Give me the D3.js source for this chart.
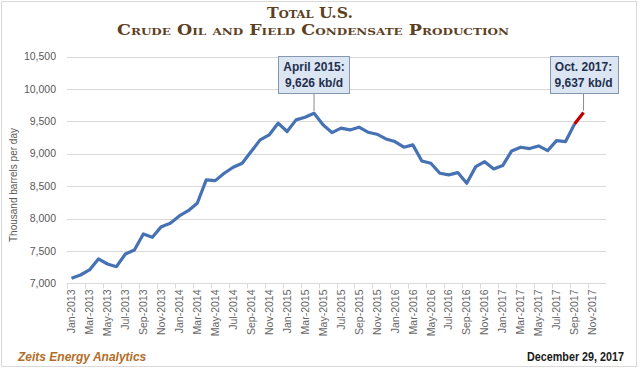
<!DOCTYPE html>
<html>
<head>
<meta charset="utf-8">
<script src="https://cdn.jsdelivr.net/npm/d3@7"></script>
<style>
  body { margin: 0; background: #fff; }
  svg { display: block; }
</style>
</head>
<body>
<div id="vis"></div>
<script>
var width = 640, height = 370;

// months on the category axis (Jan-2013 .. Dec-2017)
var months = [
  "Jan-2013","Feb-2013","Mar-2013","Apr-2013","May-2013","Jun-2013","Jul-2013","Aug-2013","Sep-2013","Oct-2013","Nov-2013","Dec-2013",
  "Jan-2014","Feb-2014","Mar-2014","Apr-2014","May-2014","Jun-2014","Jul-2014","Aug-2014","Sep-2014","Oct-2014","Nov-2014","Dec-2014",
  "Jan-2015","Feb-2015","Mar-2015","Apr-2015","May-2015","Jun-2015","Jul-2015","Aug-2015","Sep-2015","Oct-2015","Nov-2015","Dec-2015",
  "Jan-2016","Feb-2016","Mar-2016","Apr-2016","May-2016","Jun-2016","Jul-2016","Aug-2016","Sep-2016","Oct-2016","Nov-2016","Dec-2016",
  "Jan-2017","Feb-2017","Mar-2017","Apr-2017","May-2017","Jun-2017","Jul-2017","Aug-2017","Sep-2017","Oct-2017","Nov-2017","Dec-2017"
];

// production, thousand barrels per day (Jan-2013 .. Oct-2017)
var production = [
  7077, 7128, 7206, 7376, 7298, 7257, 7453, 7515, 7762, 7711, 7875, 7927,
  8040, 8122, 8236, 8597, 8586, 8700, 8793, 8855, 9035, 9215, 9292, 9473,
  9344, 9524, 9566, 9626, 9450, 9328, 9396, 9369, 9411, 9334, 9303, 9230,
  9189, 9102, 9138, 8890, 8855, 8700, 8674, 8710, 8546, 8802, 8879, 8766,
  8818, 9045, 9102, 9081, 9122, 9050, 9204, 9189, 9460, 9637
];

// last months highlighted in red
var highlightFrom = "Sep-2017";

var yTicks = [7000, 7500, 8000, 8500, 9000, 9500, 10000, 10500];

var callouts = [
  { month: "Apr-2015", lines: ["April 2015:", "9,626 kb/d"] },
  { month: "Oct-2017", lines: ["Oct. 2017:", "9,637 kb/d"] }
];

var titleLines = ["Total U.S.", "Crude Oil and Field Condensate Production"];
var footerLeft = "Zeits Energy Analytics";
var footerRight = "December 29, 2017";

var margin = { top: 57, right: 34, bottom: 87, left: 67 };

var svg = d3.select("#vis")
  .append("svg")
  .attr("width", width)
  .attr("height", height);

// frame
svg.append("rect")
  .attr("x", 1.5).attr("y", 1.5)
  .attr("width", width - 5).attr("height", height - 5)
  .style("fill", "none")
  .style("stroke", "#d9d9d9");

var x = d3.scaleBand()
  .domain(months)
  .range([margin.left, width - margin.right])
  .paddingInner(0).paddingOuter(0);

var y = d3.scaleLinear()
  .domain([7000, 10500])
  .range([height - margin.bottom + 0.3, margin.top - 0.3]);

var cx = d => x(d) + x.bandwidth() / 2;

// gridlines
svg.append("g")
  .selectAll("line")
  .data(yTicks)
  .enter()
  .append("line")
  .attr("x1", margin.left)
  .attr("x2", width - margin.right)
  .attr("y1", d => Math.round(y(d)) + 0.5)
  .attr("y2", d => Math.round(y(d)) + 0.5)
  .style("stroke", "#d9d9d9")
  .style("stroke-width", 1);

// y tick labels
svg.append("g")
  .selectAll("text")
  .data(yTicks)
  .enter()
  .append("text")
  .attr("x", 56)
  .attr("y", d => y(d))
  .attr("dy", "0.35em")
  .attr("text-anchor", "end")
  .attr("font-family", "'Liberation Sans', Arial, sans-serif")
  .attr("font-size", "10.5px")
  .style("fill", "#595959")
  .text(d => d3.format(",")(d));

// y axis title
svg.append("text")
  .attr("transform", "translate(17," + ((y(7000) + y(10500)) / 2 + 15) + ") rotate(-90)")
  .attr("text-anchor", "middle")
  .attr("font-family", "'Liberation Sans', Arial, sans-serif")
  .attr("font-size", "10px")
  .style("fill", "#595959")
  .text("Thousand barrels per day");

// x axis tick marks every 2 months
var axisY = Math.round(y(7000)) + 0.5;
svg.append("g")
  .selectAll("line")
  .data(months.filter((m, i) => i % 2 === 0))
  .enter()
  .append("line")
  .attr("x1", d => Math.round(x(d)) + 0.5)
  .attr("x2", d => Math.round(x(d)) + 0.5)
  .attr("y1", axisY)
  .attr("y2", axisY + 5)
  .style("stroke", "#d9d9d9");

// x labels
svg.append("g")
  .selectAll("text")
  .data(months.filter((m, i) => i % 2 === 0))
  .enter()
  .append("text")
  .attr("transform", d => "translate(" + cx(d) + "," + (axisY + 6) + ") rotate(-90)")
  .attr("dy", "0.35em")
  .attr("text-anchor", "end")
  .attr("font-family", "'Liberation Sans', Arial, sans-serif")
  .attr("font-size", "10.5px")
  .style("fill", "#666")
  .text(d => d);

// line
var series = production.map((v, i) => ({ month: months[i], value: v }));
var hi = months.indexOf(highlightFrom);

var line = d3.line()
  .x(d => cx(d.month))
  .y(d => y(d.value));

svg.append("path")
  .datum(series.slice(0, hi + 1))
  .attr("d", line)
  .style("fill", "none")
  .style("stroke", "#4672b4")
  .style("stroke-width", 3.2)
  .style("stroke-linejoin", "round");

svg.append("path")
  .datum(series.slice(hi))
  .attr("d", line)
  .style("fill", "none")
  .style("stroke", "#c00000")
  .style("stroke-width", 3.2)
  .style("stroke-linejoin", "round");

// callouts
callouts.forEach(c => {
  var val = production[months.indexOf(c.month)];
  var px = cx(c.month), py = y(val);
  var g = svg.append("g");
  var t = g.append("text")
    .attr("text-anchor", "middle")
    .attr("font-family", "'Liberation Sans', Arial, sans-serif")
    .attr("font-size", "12px")
    .attr("font-weight", "bold")
    .style("fill", "#1f2f4f");
  c.lines.forEach((l, i) => {
    t.append("tspan").attr("x", px).attr("y", 71 + i * 16).text(l);
  });
  var bb = t.node().getBBox();
  var bw = bb.width + 10;
  g.insert("line", "text")
    .attr("x1", px).attr("x2", px)
    .attr("y1", 94).attr("y2", py - 2)
    .style("stroke", "#8c8c8c");
  g.insert("rect", "text")
    .attr("x", Math.round(px - bw / 2) + 0.5)
    .attr("y", 56.5)
    .attr("width", Math.round(bw))
    .attr("height", 37)
    .style("fill", "#dce6f2")
    .style("stroke", "#8497b0");
});

// title (wide copperplate-like small caps)
var titleWidths = [86, 392];
titleLines.forEach((l, i) => {
  svg.append("text")
    .attr("x", i === 0 ? 310 : 313)
    .attr("y", 18 + i * 17)
    .attr("text-anchor", "middle")
    .attr("font-family", "'DejaVu Serif', serif")
    .attr("font-size", i === 0 ? "15px" : "14.5px")
    .attr("font-weight", "bold")
    .attr("textLength", titleWidths[i])
    .attr("lengthAdjust", "spacingAndGlyphs")
    .style("font-variant", "small-caps")
    .style("fill", "#5e3f1f")
    .text(l);
});

// footer
svg.append("text")
  .attr("x", 18)
  .attr("y", 361)
  .attr("font-family", "'Liberation Sans', Arial, sans-serif")
  .attr("font-size", "12px")
  .attr("font-weight", "bold")
  .attr("font-style", "italic")
  .style("fill", "#b36d28")
  .text(footerLeft);

svg.append("text")
  .attr("x", 624)
  .attr("y", 361)
  .attr("text-anchor", "end")
  .attr("font-family", "'Liberation Sans', Arial, sans-serif")
  .attr("font-size", "12.5px")
  .attr("font-weight", "bold")
  .attr("textLength", 97)
  .attr("lengthAdjust", "spacingAndGlyphs")
  .style("fill", "#1a1a1a")
  .text(footerRight);
</script>
</body>
</html>
